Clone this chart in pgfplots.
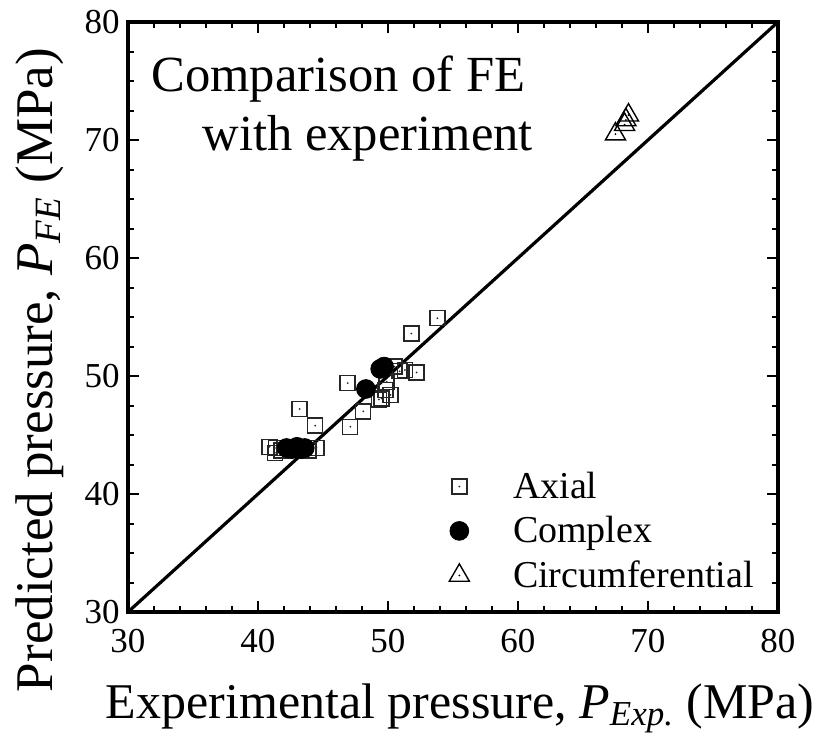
\documentclass[border=0pt]{standalone}
\usepackage{fontspec}
\setmainfont{Liberation Serif}
\usepackage{pgfplots}
\pgfplotsset{compat=1.18}

% open square / triangle with a dot in the middle
\pgfdeclareplotmark{sqdot}{%
  \pgfpathrectangle{\pgfqpoint{-\pgfplotmarksize}{-\pgfplotmarksize}}{\pgfqpoint{2\pgfplotmarksize}{2\pgfplotmarksize}}%
  \pgfusepathqstroke
  \pgfpathcircle{\pgfpointorigin}{0.5pt}%
  \pgfusepathqfill}
\pgfdeclareplotmark{tridot}{%
  \pgfpathmoveto{\pgfqpointpolar{90}{\pgfplotmarksize}}%
  \pgfpathlineto{\pgfqpointpolar{-30}{\pgfplotmarksize}}%
  \pgfpathlineto{\pgfqpointpolar{210}{\pgfplotmarksize}}%
  \pgfpathclose
  \pgfusepathqstroke
  \pgfpathcircle{\pgfpointorigin}{0.5pt}%
  \pgfusepathqfill}

\begin{document}
\begin{tikzpicture}
\useasboundingbox (-64pt,-61.5pt) rectangle (346.5pt,306pt);
\begin{axis}[
    scale only axis,
    width=325pt, height=295pt,
    xmin=30, xmax=80, ymin=30, ymax=80,
    xtick distance=10, ytick distance=10,
    minor x tick num=4, minor y tick num=3,
    tick align=inside, tick pos=both,
    major tick length=5.5pt, minor tick length=2.8pt,
    every tick/.style={black, line width=1pt},
    axis line style={line width=1.6pt},
    /pgf/number format/assume math mode=true,
    tick label style={font=\fontsize{17.5}{20}\selectfont, inner sep=0pt},
    xticklabel style={yshift=-8.5pt},
    yticklabel style={xshift=-4pt},
    xlabel={Experimental pressure, \textit{P}\textsubscript{\textit{Exp.}} (MPa)},
    xlabel style={font=\fontsize{25}{30}\selectfont, at={(rel axis cs:0.511,0)}, anchor=base, yshift=-53pt},
    ylabel={Predicted pressure, \textit{P}\textsubscript{\textit{FE}} (MPa)},
    ylabel style={font=\fontsize{26.5}{31}\selectfont, at={(rel axis cs:-0.1154,0.41)}, anchor=base},
    legend style={draw=none, fill=none, inner sep=0pt, outer sep=0pt,
        at={(rel axis cs:0.481,0.246)}, anchor=north west,
        font=\fontsize{19}{22}\selectfont, row sep=2.5pt,
        nodes={inner sep=2.5pt}},
    legend cell align=left,
    legend image code/.code={%
        \path (-9pt,0pt) (24pt,0pt);
        \draw[#1] plot coordinates {(0pt,0pt)};},
]
\addplot[line width=1.6pt, black, no marks, forget plot] coordinates {(30,30) (80,80)};

\addplot[only marks, mark=sqdot, mark size=3.75pt, black!85, line width=0.7pt] coordinates {
    (40.9,44.0) (41.4,43.9) (41.3,43.5) (41.8,43.7) (43.9,43.7) (44.5,43.9)
    (43.2,47.2) (44.4,45.8) (47.1,45.7) (48.1,47.0) (46.9,49.4)
    (49.3,48.0) (49.5,48.1) (49.8,48.8) (50.2,48.4) (49.9,49.5)
    (50.5,50.8) (50.9,50.4) (51.3,50.5) (52.2,50.3) (51.8,53.6) (53.8,54.9)
};
\addlegendentry{Axial}

\addplot[only marks, mark=*, mark size=4.7pt, black] coordinates {
    (42.2,43.9) (42.6,43.8) (43.0,44.0) (43.3,43.8) (43.6,43.9)
    (48.3,48.9) (49.4,50.6) (49.7,50.8)
};
\addlegendentry{Complex}

\addplot[only marks, mark=tridot, mark size=5.8pt, black, line width=0.7pt] coordinates {
    (67.5,70.5) (68.2,71.3) (68.3,71.7) (68.5,72.1)
};
\addlegendentry{Circumferential}

\node[anchor=base west, font=\fontsize{25.3}{30}\selectfont] at (rel axis cs:0.025,0.883) {Comparison of FE};
\node[anchor=base west, font=\fontsize{25.3}{30}\selectfont] at (rel axis cs:0.104,0.783) {with experiment};
\end{axis}
\end{tikzpicture}
\end{document}
